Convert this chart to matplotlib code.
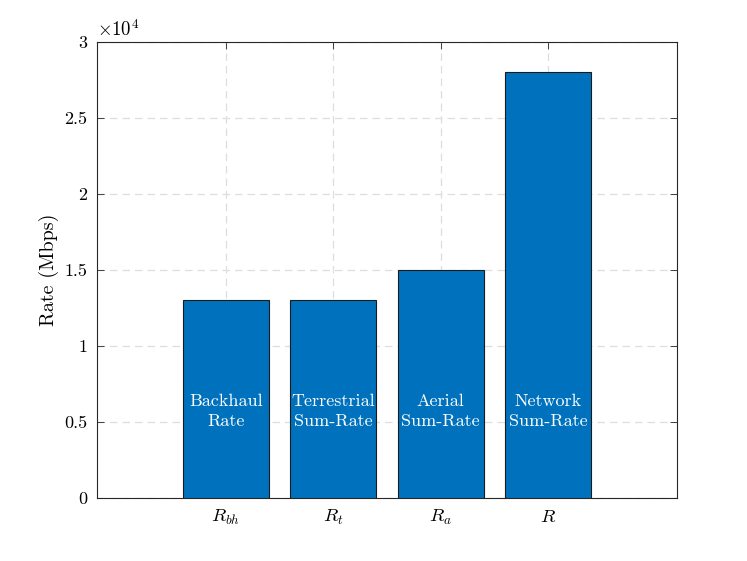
import matplotlib
matplotlib.use("Agg")
import matplotlib.pyplot as plt

plt.rcParams["font.family"] = "cmr10"
plt.rcParams["mathtext.fontset"] = "cm"
plt.rcParams["axes.formatter.use_mathtext"] = True

# data
symbols = [r"$R_{bh}$", r"$R_t$", r"$R_a$", r"$R$"]
names = ["Backhaul\nRate", "Terrestrial\nSum-Rate", "Aerial\nSum-Rate", "Network\nSum-Rate"]
rates = [13050, 13050, 15000, 28000]
yticks = [0, 5000, 10000, 15000, 20000, 25000, 30000]
ytick_labels = ["0", "0.5", "1", "1.5", "2", "2.5", "3"]

fig = plt.figure(figsize=(7.47, 5.61), dpi=100)
ax = fig.add_axes([0.1299, 0.1123, 0.7764, 0.8128])

pos = list(range(1, len(rates) + 1))
ax.bar(pos, rates, width=0.8, color="#0072BD", edgecolor="#1a1a1a", linewidth=0.8, zorder=3)

for x, name in zip(pos, names):
    ax.text(x, 5700, name, ha="center", va="center", color="white", fontsize=13,
            linespacing=1.45, zorder=4)

ax.set_xlim(-0.2, 5.2)
ax.set_ylim(0, 30000)
ax.set_xticks(pos)
ax.set_xticklabels(symbols, fontsize=13.5)
ax.set_yticks(yticks)
ax.set_yticklabels(ytick_labels, fontsize=13)
ax.text(0, 1.005, r"$\times10^4$", transform=ax.transAxes, fontsize=13.5, va="bottom", ha="left")
ax.set_ylabel("Rate (Mbps)", fontsize=14.5)

ax.grid(True, linestyle=(0, (6, 4)), color="#dedede", linewidth=0.9, zorder=0)
ax.set_axisbelow(True)
ax.tick_params(direction="in", top=True, right=True, length=5, width=0.6, color="#262626", pad=7)
for sp in ax.spines.values():
    sp.set_color("#262626")
    sp.set_linewidth(0.8)

fig.savefig("out.png", dpi=100)
